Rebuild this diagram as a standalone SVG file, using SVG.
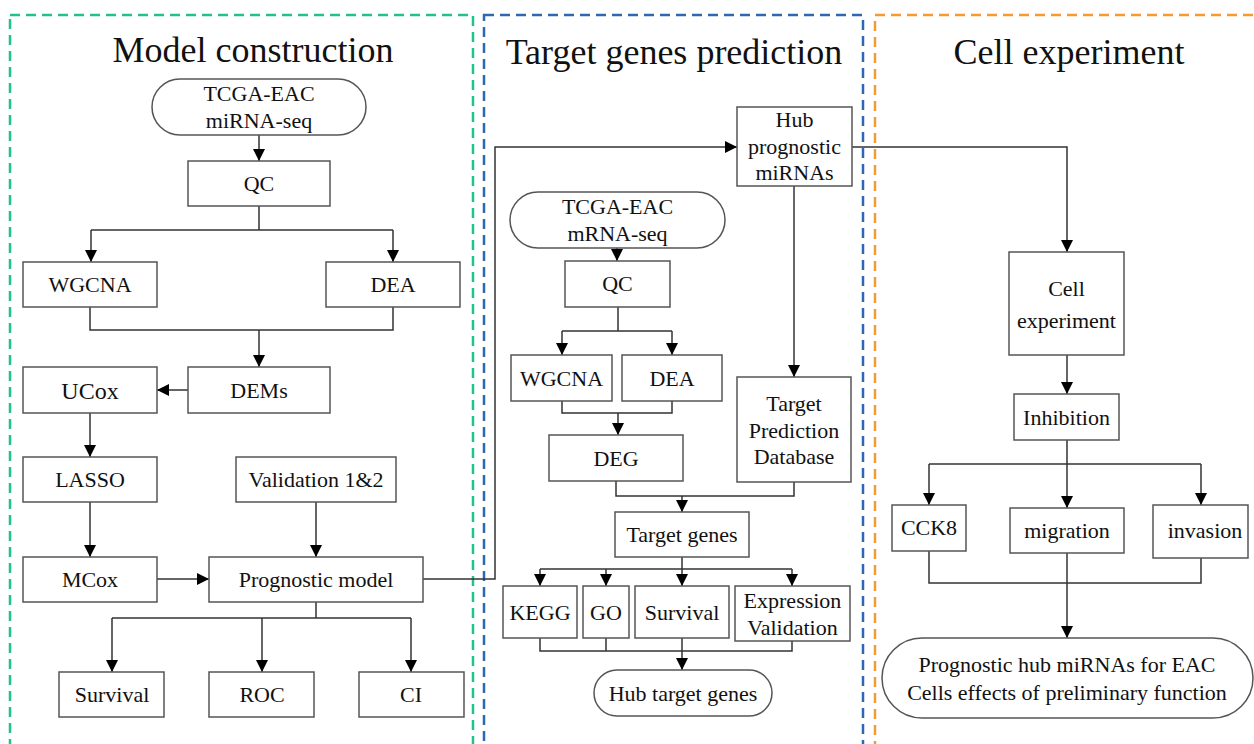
<svg xmlns="http://www.w3.org/2000/svg" width="1254" height="744" viewBox="0 0 1254 744">
<style>
.box{fill:#fff;stroke:#555;stroke-width:1.5}
.t{font-family:'Liberation Serif','DejaVu Serif',serif;font-size:22px;fill:#111;text-anchor:middle}
.title{font-family:'Liberation Serif','DejaVu Serif',serif;font-size:36px;fill:#111;text-anchor:middle}
.c{fill:none;stroke:#333;stroke-width:1.5}
.a{fill:none;stroke:#333;stroke-width:1.5;marker-end:url(#arr)}
.panel{fill:none;stroke-width:2.5;stroke-dasharray:10 6}
</style>
<defs>
<marker id="arr" markerUnits="userSpaceOnUse" markerWidth="12" markerHeight="12" viewBox="0 0 12 12" refX="12" refY="6" orient="auto">
<path d="M0,0 L12,6 L0,12 z" fill="#000"/>
</marker>
</defs>
<rect width="1254" height="744" fill="#fff"/>
<g id="panels">
<rect class="panel" x="10" y="15" width="463" height="760" stroke="#22c28e"/>
<rect class="panel" x="484" y="15" width="379" height="760" stroke="#2e68b0"/>
<rect class="panel" x="875" y="15" width="400" height="760" stroke="#f39a35"/>
<text class="title" x="253" y="62">Model construction</text>
<text class="title" x="674" y="64">Target genes prediction</text>
<text class="title" x="1069" y="64">Cell experiment</text>
</g>
<g id="connectors">
<path class="a" d="M259,135 V161"/>
<path class="c" d="M259,206 V230 M91,230 H393"/>
<path class="a" d="M91,230 V262"/>
<path class="a" d="M393,230 V262"/>
<path class="c" d="M90,307 V330 H393 V307"/>
<path class="a" d="M259,330 V367"/>
<path class="a" d="M188,390 H157"/>
<path class="a" d="M90,413 V457"/>
<path class="a" d="M90,502 V557"/>
<path class="a" d="M316,502 V557"/>
<path class="a" d="M157,579 H209"/>
<path class="a" d="M423,579 H495 V147 H737"/>
<path class="c" d="M316,602 V618 M112,618 H411"/>
<path class="a" d="M112,618 V672"/>
<path class="a" d="M262,618 V672"/>
<path class="a" d="M411,618 V672"/>
<path class="a" d="M617,248 V261"/>
<path class="c" d="M618,307 V331 M562,331 H672"/>
<path class="a" d="M562,331 V355"/>
<path class="a" d="M672,331 V355"/>
<path class="c" d="M562,401 V413 H672 V401"/>
<path class="a" d="M618,413 V435"/>
<path class="a" d="M794,186 V377"/>
<path class="c" d="M616,481 V496 H794 V482"/>
<path class="a" d="M682,496 V512"/>
<path class="c" d="M682,557 V569 M540,569 H792"/>
<path class="a" d="M540,569 V586"/>
<path class="a" d="M606,569 V586"/>
<path class="a" d="M682,569 V586"/>
<path class="a" d="M792,569 V586"/>
<path class="c" d="M540,638 V651 H792 V641 M606,638 V651"/>
<path class="a" d="M682,638 V670"/>
<path class="a" d="M852,147 H1067 V252"/>
<path class="a" d="M1067,355 V394"/>
<path class="c" d="M1067,440 V464 M929,464 H1201"/>
<path class="a" d="M929,464 V505"/>
<path class="a" d="M1067,464 V508"/>
<path class="a" d="M1201,464 V505"/>
<path class="c" d="M929,551 V583 H1201 V558"/>
<path class="a" d="M1067,553 V638"/>
</g>
<g id="tcga-mirna"><rect class="box" x="152" y="79" width="214" height="56" rx="28"/><text class="t" x="259" y="101">TCGA-EAC</text><text class="t" x="259" y="128">miRNA-seq</text></g>
<g id="qc1"><rect class="box" x="188" y="161" width="142" height="45"/><text class="t" x="259" y="191">QC</text></g>
<g id="wgcna1"><rect class="box" x="23" y="262" width="134" height="45"/><text class="t" x="90" y="292">WGCNA</text></g>
<g id="dea1"><rect class="box" x="326" y="262" width="134" height="45"/><text class="t" x="393" y="292">DEA</text></g>
<g id="dems"><rect class="box" x="188" y="367" width="142" height="46"/><text class="t" x="259" y="398">DEMs</text></g>
<g id="ucox"><rect class="box" x="23" y="367" width="134" height="46"/><text class="t" x="90" y="399" style="font-size:24px">UCox</text></g>
<g id="lasso"><rect class="box" x="23" y="457" width="134" height="45"/><text class="t" x="90" y="487">LASSO</text></g>
<g id="validation"><rect class="box" x="236" y="457" width="160" height="45"/><text class="t" x="316" y="487">Validation 1&amp;2</text></g>
<g id="mcox"><rect class="box" x="23" y="557" width="134" height="45"/><text class="t" x="90" y="587">MCox</text></g>
<g id="prognostic"><rect class="box" x="209" y="557" width="214" height="45"/><text class="t" x="316" y="587">Prognostic model</text></g>
<g id="survival1"><rect class="box" x="59" y="672" width="105" height="45"/><text class="t" x="112" y="702">Survival</text></g>
<g id="roc"><rect class="box" x="209" y="672" width="105" height="45"/><text class="t" x="262" y="702">ROC</text></g>
<g id="ci"><rect class="box" x="359" y="672" width="105" height="45"/><text class="t" x="411" y="702">CI</text></g>
<g id="hub-mirnas"><rect class="box" x="737" y="107" width="115" height="79"/><text class="t" x="794.5" y="127">Hub</text><text class="t" x="794.5" y="154">prognostic</text><text class="t" x="794.5" y="180">miRNAs</text></g>
<g id="tcga-mrna"><rect class="box" x="510" y="192" width="215" height="56" rx="28"/><text class="t" x="617.5" y="214">TCGA-EAC</text><text class="t" x="617.5" y="241">mRNA-seq</text></g>
<g id="qc2"><rect class="box" x="565" y="261" width="105" height="46"/><text class="t" x="617.5" y="291">QC</text></g>
<g id="wgcna2"><rect class="box" x="511" y="355" width="101" height="46"/><text class="t" x="561.5" y="386">WGCNA</text></g>
<g id="dea2"><rect class="box" x="622" y="355" width="100" height="46"/><text class="t" x="672" y="386">DEA</text></g>
<g id="deg"><rect class="box" x="549" y="435" width="134" height="46"/><text class="t" x="616" y="466">DEG</text></g>
<g id="tpd"><rect class="box" x="737" y="377" width="114" height="105"/><text class="t" x="794" y="411">Target</text><text class="t" x="794" y="438">Prediction</text><text class="t" x="794" y="464">Database</text></g>
<g id="target-genes"><rect class="box" x="615" y="512" width="134" height="45"/><text class="t" x="682" y="542">Target genes</text></g>
<g id="kegg"><rect class="box" x="503" y="586" width="74" height="52"/><text class="t" x="540" y="620">KEGG</text></g>
<g id="go"><rect class="box" x="583" y="586" width="46" height="52"/><text class="t" x="606" y="620">GO</text></g>
<g id="survival2"><rect class="box" x="635" y="586" width="94" height="52"/><text class="t" x="682" y="620">Survival</text></g>
<g id="expr"><rect class="box" x="735" y="586" width="115" height="55"/><text class="t" x="792.5" y="608">Expression</text><text class="t" x="792.5" y="635">Validation</text></g>
<g id="hub-target"><rect class="box" x="594" y="670" width="178" height="46" rx="23"/><text class="t" x="683" y="701">Hub target genes</text></g>
<g id="cell-exp"><rect class="box" x="1009" y="252" width="115" height="103"/><text class="t" x="1066.5" y="296">Cell</text><text class="t" x="1066.5" y="328">experiment</text></g>
<g id="inhibition"><rect class="box" x="1014" y="394" width="105" height="46"/><text class="t" x="1066.5" y="425">Inhibition</text></g>
<g id="cck8"><rect class="box" x="892" y="505" width="74" height="46"/><text class="t" x="929" y="535">CCK8</text></g>
<g id="migration"><rect class="box" x="1010" y="508" width="114" height="45"/><text class="t" x="1067" y="538">migration</text></g>
<g id="invasion"><rect class="box" x="1153" y="505" width="95" height="53"/><text class="t" x="1205" y="538">invasion</text></g>
<g id="final"><rect class="box" x="882" y="638" width="371" height="80" rx="40"/><text class="t" x="1067" y="672">Prognostic hub miRNAs for EAC</text><text class="t" x="1067" y="700">Cells effects of preliminary function</text></g>
</svg>
